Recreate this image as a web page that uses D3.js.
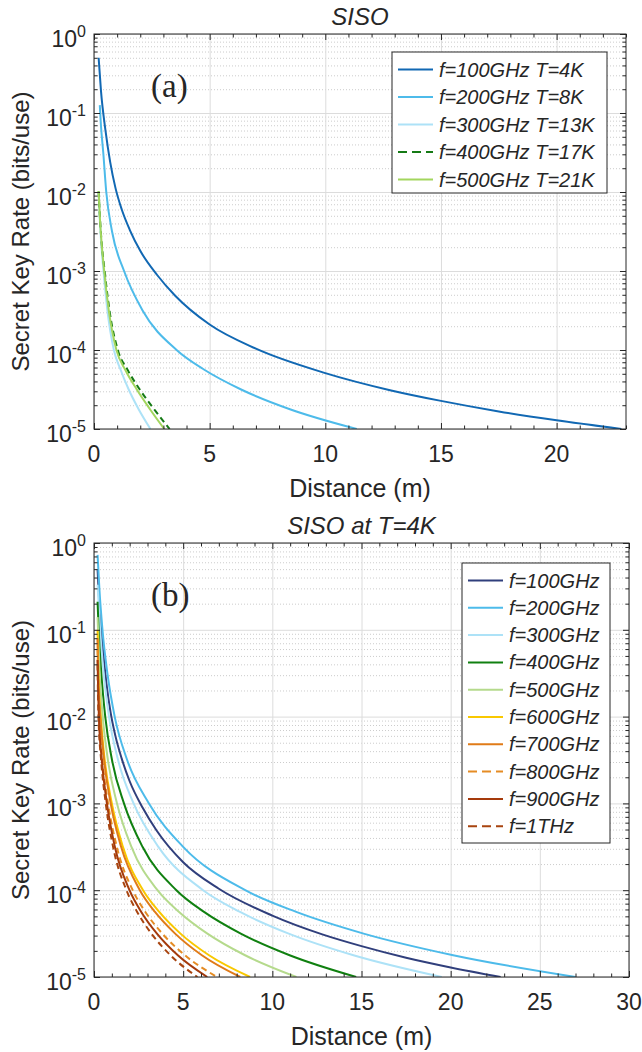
<!DOCTYPE html>
<html>
<head>
<meta charset="utf-8">
<script src="https://cdn.jsdelivr.net/npm/d3@7/dist/d3.min.js"></script>
<style>
  body { margin: 0; background: #fff; }
  svg text { font-family: "Liberation Sans", Arial, sans-serif; fill: #262626; }
</style>
</head>
<body>
<div id="chart"></div>
<script>
// ---- data: [distance (m), secret key rate (bits/use)] ----
// panel (a): SISO, temperature scaled with frequency
const a100 = [[0.2,0.5],[0.3,0.193],[0.5,0.059],[0.7,0.0239],[0.93,0.0112],[1.2,0.006],[1.55,0.0033],[2,0.0018],[2.73,8.9e-4],[3.5,4.9e-4],[5,2.1e-4],[7,1.04e-4],[10,5.1e-5],[12.8,3.1e-5],[15,2.27e-5],[17.5,1.67e-5],[20,1.29e-5],[22.8,1e-5]];
const a200 = [[0.25,0.126],[0.3,0.07],[0.4,0.0316],[0.53,0.01],[0.78,3.16e-3],[1.3,1e-3],[2.1,3.16e-4],[3.57,1e-4],[4.77,5.62e-5],[6.36,3.16e-5],[8.47,1.78e-5],[11.36,1e-5]];
const a300 = [[0.2,0.0098],[0.25,0.0045],[0.3,0.0025],[0.41,1e-3],[0.58,3.16e-4],[0.86,1e-4],[1.15,5.62e-5],[1.5,3.16e-5],[1.93,1.78e-5],[2.44,1e-5]];
const a400 = [[0.2,0.0102],[0.25,0.0052],[0.3,0.003],[0.46,1e-3],[0.67,3.16e-4],[1.03,1e-4],[1.45,5.62e-5],[1.98,3.16e-5],[2.6,1.78e-5],[3.27,1e-5]];
const a500 = [[0.2,0.0102],[0.25,0.005],[0.3,0.0029],[0.44,1e-3],[0.64,3.16e-4],[0.97,1e-4],[1.35,5.62e-5],[1.85,3.16e-5],[2.42,1.78e-5],[3.04,1e-5]];
const labelsA = ["f=100GHz T=4K","f=200GHz T=8K","f=300GHz T=13K","f=400GHz T=17K","f=500GHz T=21K"];

// panel (b): SISO at T=4K (100 GHz is the same curve as in (a))
const b100 = a100;
const b200 = [[0.2,0.73],[0.3,0.3],[0.475,0.1],[0.75,0.0316],[1.16,0.01],[1.86,3.16e-3],[3.08,1e-3],[5.0,3.16e-4],[8.48,1e-4],[11.34,5.62e-5],[15.12,3.16e-5],[20.14,1.78e-5],[27,1e-5]];
const b300 = [[0.2,0.33],[0.343,0.1],[0.54,0.0316],[0.84,0.01],[1.35,3.16e-3],[2.22,1e-3],[3.61,3.16e-4],[6.12,1e-4],[8.19,5.62e-5],[10.92,3.16e-5],[14.55,1.78e-5],[19.5,1e-5]];
const b400 = [[0.2,0.21],[0.26,0.1],[0.41,0.0316],[0.63,0.01],[1.01,3.16e-3],[1.68,1e-3],[2.72,3.16e-4],[4.62,1e-4],[6.17,5.62e-5],[8.23,3.16e-5],[10.97,1.78e-5],[14.7,1e-5]];
const b500 = [[0.2,0.14],[0.316,0.0316],[0.49,0.01],[0.78,3.16e-3],[1.29,1e-3],[2.1,3.16e-4],[3.56,1e-4],[4.77,5.62e-5],[6.36,3.16e-5],[8.47,1.78e-5],[11.35,1e-5]];
const b600 = [[0.2,0.1],[0.243,0.0316],[0.376,0.01],[0.6,3.16e-3],[1.0,1e-3],[1.62,3.16e-4],[2.75,1e-4],[3.66,5.62e-5],[4.85,3.16e-5],[6.45,1.78e-5],[8.75,1e-5]];
const b700 = [[0.2,0.08],[0.228,0.0316],[0.353,0.01],[0.566,3.16e-3],[0.935,1e-3],[1.52,3.16e-4],[2.57,1e-4],[3.42,5.62e-5],[4.55,3.16e-5],[6.05,1.78e-5],[8.2,1e-5]];
const b800 = [[0.2,0.06],[0.24,0.025],[0.297,0.01],[0.476,3.16e-3],[0.787,1e-3],[1.28,3.16e-4],[2.17,1e-4],[2.88,5.62e-5],[3.83,3.16e-5],[5.1,1.78e-5],[6.9,1e-5]];
const b900 = [[0.2,0.045],[0.23,0.022],[0.273,0.01],[0.438,3.16e-3],[0.724,1e-3],[1.17,3.16e-4],[1.99,1e-4],[2.65,5.62e-5],[3.53,3.16e-5],[4.7,1.78e-5],[6.35,1e-5]];
const b1T  = [[0.2,0.04],[0.22,0.02],[0.25,0.01],[0.4,3.16e-3],[0.66,1e-3],[1.07,3.16e-4],[1.82,1e-4],[2.42,5.62e-5],[3.22,3.16e-5],[4.29,1.78e-5],[5.8,1e-5]];
const labelsB = ["f=100GHz","f=200GHz","f=300GHz","f=400GHz","f=500GHz","f=600GHz","f=700GHz","f=800GHz","f=900GHz","f=1THz"];

const ticksXA = [0,5,10,15,20];
const ticksXB = [0,5,10,15,20,25,30];
const decades = [1e-5,1e-4,1e-3,1e-2,1e-1,1];

// ---- drawing ----
const svg = d3.select("#chart").append("svg").attr("width", 642).attr("height", 1052);
const minorY = [];
for (let e = -5; e < 0; e++) for (let m = 2; m < 10; m++) minorY.push(m * Math.pow(10, e));

function drawPanel(o) {
  const x = d3.scaleLinear().domain([0, o.xmax]).range([o.left, o.right]);
  const y = d3.scaleLog().domain([1e-5, 1]).range([o.bottom, o.top]);
  const w = o.right - o.left, h = o.bottom - o.top;
  const g = svg.append("g");

  // grid
  g.append("g").attr("transform", `translate(${o.left},0)`)
    .call(d3.axisLeft(y).tickValues(minorY).tickSize(-w).tickFormat(""))
    .call(s => s.select(".domain").remove())
    .selectAll("line").attr("stroke", "#cccccc").attr("stroke-dasharray", "1,2");
  g.append("g").attr("transform", `translate(${o.left},0)`)
    .call(d3.axisLeft(y).tickValues(decades).tickSize(-w).tickFormat(""))
    .call(s => s.select(".domain").remove())
    .selectAll("line").attr("stroke", "#dcdcdc");
  g.append("g").attr("transform", `translate(0,${o.bottom})`)
    .call(d3.axisBottom(x).tickValues(o.ticksX).tickSize(-h).tickFormat(""))
    .call(s => s.select(".domain").remove())
    .selectAll("line").attr("stroke", "#dcdcdc");

  // curves
  const clipId = "clip" + o.id;
  svg.append("clipPath").attr("id", clipId).append("rect")
    .attr("x", o.left).attr("y", o.top).attr("width", w).attr("height", h);
  const line = d3.line().x(d => x(d[0])).y(d => y(d[1])).curve(d3.curveMonotoneX);
  g.append("g").attr("clip-path", `url(#${clipId})`)
    .selectAll("path").data(o.series).join("path")
    .attr("d", d => line(d.pts))
    .attr("fill", "none")
    .attr("stroke", d => d.color)
    .attr("stroke-width", 2)
    .attr("stroke-dasharray", d => d.dash ? "6,4" : null);

  // ticks (inward), all four sides
  const tk = (axis, tx, ty, vals, len) => g.append("g").attr("transform", `translate(${tx},${ty})`)
    .call(axis.tickValues(vals).tickSizeInner(-len).tickSizeOuter(0).tickFormat(""))
    .call(s => s.select(".domain").remove())
    .selectAll("line").attr("stroke", "#262626");
  const minorX = d3.range(0, o.xmax + 0.001, 1).filter(v => v % 5 !== 0);
  tk(d3.axisBottom(x), 0, o.bottom, o.ticksX, 6);
  tk(d3.axisTop(x), 0, o.top, o.ticksX, 6);
  tk(d3.axisBottom(x), 0, o.bottom, minorX, 3.5);
  tk(d3.axisTop(x), 0, o.top, minorX, 3.5);
  tk(d3.axisLeft(y), o.left, 0, decades, 6);
  tk(d3.axisRight(y), o.right, 0, decades, 6);
  tk(d3.axisLeft(y), o.left, 0, minorY, 3.5);
  tk(d3.axisRight(y), o.right, 0, minorY, 3.5);

  // box
  g.append("rect").attr("x", o.left).attr("y", o.top).attr("width", w).attr("height", h)
    .attr("fill", "none").attr("stroke", "#262626").attr("stroke-width", 1);

  // tick labels
  g.selectAll("text.xt").data(o.ticksX).join("text").attr("class", "xt")
    .attr("x", d => x(d)).attr("y", o.bottom + 33).attr("text-anchor", "middle")
    .attr("font-size", 23).text(d => d);
  const yt = g.selectAll("text.yt").data(decades).join("text").attr("class", "yt")
    .attr("x", o.left - 8).attr("y", d => y(d) + 13).attr("text-anchor", "end").attr("font-size", 23);
  yt.append("tspan").text("10");
  yt.append("tspan").attr("dy", -10).attr("font-size", 16).text(d => Math.round(Math.log10(d)));

  // axis labels + title
  g.append("text").attr("x", (o.left + o.right) / 2).attr("y", o.bottom + 68)
    .attr("text-anchor", "middle").attr("font-size", 25).text("Distance (m)");
  g.append("text").attr("transform", `translate(29,${(o.top + o.bottom) / 2}) rotate(-90)`)
    .attr("text-anchor", "middle").attr("font-size", 24).text("Secret Key Rate (bits/use)");
  g.append("text").attr("x", (o.left + o.right) / 2).attr("y", o.top - 9)
    .attr("text-anchor", "middle").attr("font-size", 24).attr("font-style", "italic").text(o.title);
  g.append("text").attr("x", o.left + 57).attr("y", o.top + 63)
    .attr("font-size", 33)
    .style("font-family", "'Liberation Serif', 'Times New Roman', serif").text(o.tag);

  // legend
  const L = o.legend;
  const lg = g.append("g");
  lg.append("rect").attr("x", L.x).attr("y", L.y).attr("width", L.w).attr("height", L.h)
    .attr("fill", "#fff").attr("stroke", "#262626").attr("stroke-width", 1);
  const row = lg.selectAll("g.row").data(o.series).join("g").attr("class", "row")
    .attr("transform", (d, i) => `translate(${L.x + 6},${L.y + 17.5 + i * L.step})`);
  row.append("line").attr("x1", 0).attr("x2", 35).attr("y1", 0).attr("y2", 0)
    .attr("stroke", d => d.color).attr("stroke-width", 2)
    .attr("stroke-dasharray", d => d.dash ? "9,5" : null);
  row.append("text").attr("x", 41).attr("y", 7).attr("font-size", 20).attr("font-style", "italic")
    .text(d => d.label);
}

drawPanel({
  id: "a", left: 94, right: 626, top: 34, bottom: 429, xmax: 23, ticksX: ticksXA,
  title: "SISO", tag: "(a)",
  legend: { x: 392, y: 52, w: 215, h: 141, step: 27.5 },
  series: [
    { pts: a100, color: "#1168b3", label: labelsA[0] },
    { pts: a200, color: "#4dbbea", label: labelsA[1] },
    { pts: a300, color: "#ade2f7", label: labelsA[2] },
    { pts: a400, color: "#157a15", label: labelsA[3], dash: true },
    { pts: a500, color: "#a3d65e", label: labelsA[4] }
  ]
});

drawPanel({
  id: "b", left: 94, right: 629, top: 543, bottom: 977, xmax: 30, ticksX: ticksXB,
  title: "SISO at T=4K", tag: "(b)",
  legend: { x: 462, y: 563, w: 148, h: 280, step: 27.3 },
  series: [
    { pts: b100, color: "#303f7c", label: labelsB[0] },
    { pts: b200, color: "#4dbbea", label: labelsB[1] },
    { pts: b300, color: "#ade2f7", label: labelsB[2] },
    { pts: b400, color: "#108010", label: labelsB[3] },
    { pts: b500, color: "#b5da8c", label: labelsB[4] },
    { pts: b600, color: "#f9c800", label: labelsB[5] },
    { pts: b700, color: "#e07b18", label: labelsB[6] },
    { pts: b800, color: "#e58c24", label: labelsB[7], dash: true },
    { pts: b900, color: "#a53a0c", label: labelsB[8] },
    { pts: b1T,  color: "#a8440f", label: labelsB[9], dash: true }
  ]
});
</script>
</body>
</html>
